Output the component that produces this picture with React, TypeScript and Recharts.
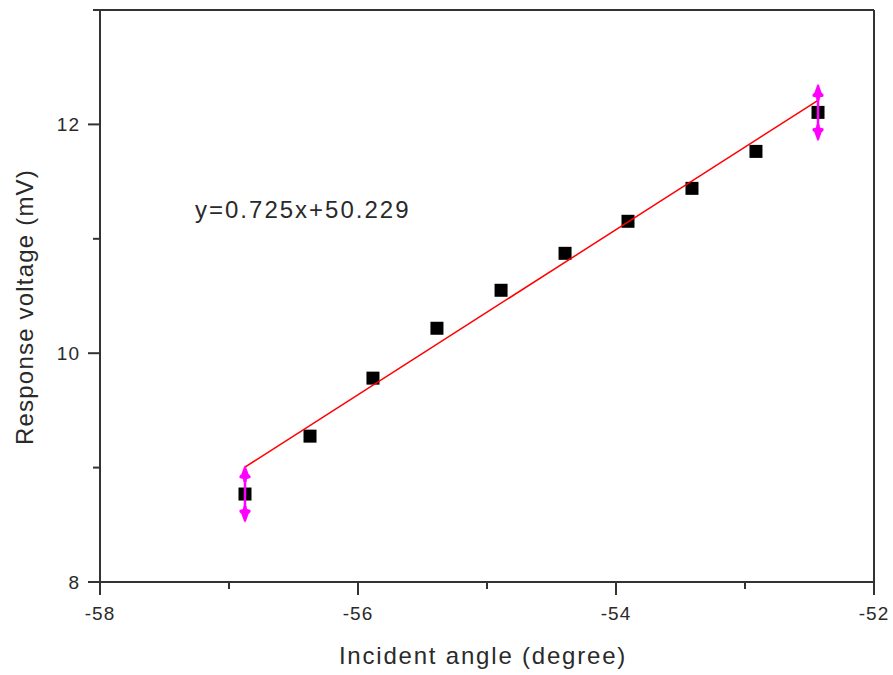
import React from 'react';
import { ScatterChart, Scatter, XAxis, YAxis, ReferenceLine } from 'recharts';

const angles = [-56.876, -56.372, -55.884, -55.388, -54.891, -54.395, -53.907, -53.411, -52.915, -52.434];
const voltages = [8.769, 9.275, 9.782, 10.218, 10.55, 10.873, 11.153, 11.441, 11.764, 12.105];
const fitX = [-56.876, -52.434];
const fitY = [9.005, 12.21];
const xTicks = [-58, -57, -56, -55, -54, -53, -52];
const yTicks = [8, 9, 10, 11, 12, 13];
const equation = 'y=0.725x+50.229';

const points = angles.map((x, i) => ({ x, y: voltages[i] }));
const fitLine = fitX.map((x, i) => ({ x, y: fitY[i] }));
const endPoints = [points[0], points[points.length - 1]];

const FONT = '"Liberation Sans", Arial, sans-serif';
const AXIS = '#333333';
const TEXT = '#2a2a2a';

const SquareMark = (props: any) => {
  const { cx, cy } = props;
  return <rect x={cx - 6.5} y={cy - 6.5} width={13} height={13} fill="#000" />;
};

const NoMark = () => <g />;

// double-headed magenta marker on the end points
const ArrowMark = (props: any) => {
  const { cx, cy } = props;
  const head = (s: number) =>
    `M${cx},${cy + s * 29} L${cx + 2.5},${cy + s * 23} L${cx + 3.5},${cy + s * 20} L${cx + 5.5},${cy + s * 18} L${cx + 5.5},${cy + s * 16} L${cx + 2},${cy + s * 15} L${cx + 1.5},${cy + s * 12} L${cx - 1.5},${cy + s * 12} L${cx - 2},${cy + s * 15} L${cx - 5.5},${cy + s * 16} L${cx - 5.5},${cy + s * 18} L${cx - 3.5},${cy + s * 20} L${cx - 2.5},${cy + s * 23} Z`;
  return (
    <g>
      <line x1={cx} y1={cy - 27} x2={cx} y2={cy + 27} stroke="#ff00ff" strokeWidth={2.5} />
      <path d={head(-1)} fill="#ff00ff" />
      <path d={head(1)} fill="#ff00ff" />
    </g>
  );
};

const XTick = (props: any) => {
  const { x, y, payload } = props;
  const major = payload.value % 2 === 0;
  return (
    <g>
      <line x1={x} y1={y} x2={x} y2={y + (major ? 13 : 7)} stroke={AXIS} strokeWidth={2} />
      {major && (
        <text x={x} y={y + 38} textAnchor="middle" fontSize={19} letterSpacing={1} fill={TEXT} fontFamily={FONT}>
          {payload.value}
        </text>
      )}
    </g>
  );
};

const YTick = (props: any) => {
  const { x, y, payload } = props;
  const major = payload.value % 2 === 0;
  return (
    <g>
      <line x1={x} y1={y} x2={x - (major ? 12 : 7)} y2={y} stroke={AXIS} strokeWidth={2} />
      {major && (
        <text x={x - 20} y={y + 7} textAnchor="end" fontSize={19} letterSpacing={1} fill={TEXT} fontFamily={FONT}>
          {payload.value}
        </text>
      )}
    </g>
  );
};

export default function App() {
  return (
    <div style={{ position: 'absolute', left: 0, top: 0, width: 893, height: 675, background: '#fff' }}>
      <ScatterChart width={893} height={675} margin={{ top: 10, right: 19, bottom: 0, left: 0 }}>
        <XAxis
          type="number"
          dataKey="x"
          domain={[-58, -52]}
          ticks={xTicks}
          interval={0}
          height={93}
          tickSize={0}
          tickMargin={0}
          tick={<XTick />}
          axisLine={{ stroke: AXIS, strokeWidth: 2 }}
          allowDataOverflow
          label={() => (
            <text x={483} y={664} textAnchor="middle" fontSize={24} letterSpacing={1.8} fill={TEXT} fontFamily={FONT}>
              Incident angle (degree)
            </text>
          )}
        />
        <YAxis
          type="number"
          dataKey="y"
          domain={[8, 13]}
          ticks={yTicks}
          interval={0}
          width={100}
          tickSize={0}
          tickMargin={0}
          tick={<YTick />}
          axisLine={{ stroke: AXIS, strokeWidth: 2 }}
          allowDataOverflow
          label={() => (
            <text
              x={33}
              y={307}
              transform="rotate(-90, 33, 307)"
              textAnchor="middle"
              fontSize={24}
              letterSpacing={1.2}
              fill={TEXT}
              fontFamily={FONT}
            >
              Response voltage (mV)
            </text>
          )}
        />
        <ReferenceLine x={-52} stroke={AXIS} strokeWidth={2} />
        <ReferenceLine y={13} stroke={AXIS} strokeWidth={2} />
        <Scatter data={points} shape={<SquareMark />} isAnimationActive={false} />
        <Scatter
          data={fitLine}
          line={{ stroke: '#ff0000', strokeWidth: 1.5 }}
          shape={<NoMark />}
          isAnimationActive={false}
        />
        <Scatter data={endPoints} shape={<ArrowMark />} isAnimationActive={false} />
      </ScatterChart>
      <div
        style={{
          position: 'absolute',
          left: 195,
          top: 198,
          fontFamily: FONT,
          fontSize: 24,
          lineHeight: '24px',
          letterSpacing: 2,
          color: TEXT,
          whiteSpace: 'nowrap',
        }}
      >
        {equation}
      </div>
    </div>
  );
}
